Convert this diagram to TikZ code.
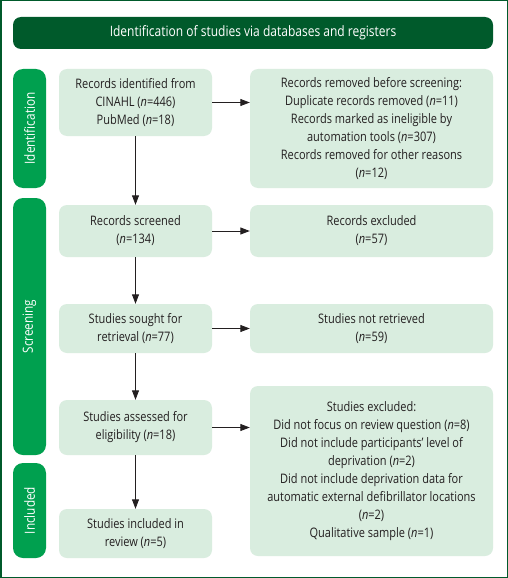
\documentclass[tikz,border=0pt]{standalone}
\usepackage{fontspec}
\setmainfont{Open Sans}[FakeStretch=0.84]
\usetikzlibrary{arrows.meta}
\definecolor{dkgreen}{HTML}{005A2B}
\definecolor{brgreen}{HTML}{00A04F}
\definecolor{ltgreen}{HTML}{D9EDDF}
\definecolor{txt}{HTML}{231F20}
\tikzset{
  box/.style={draw=none, fill=ltgreen, rounded corners=8pt, align=center, text=txt,
    font=\fontsize{13.1}{17.9}\selectfont, inner sep=0pt},
  sidebar/.style={draw=none, fill=brgreen, rounded corners=10pt, inner sep=0pt},
  sidelabel/.style={text=white, rotate=90, font=\fontsize{14}{16}\selectfont},
  arr/.style={draw=txt, line width=0.9pt, -{Triangle[length=9.5pt,width=7pt]}},
}
\begin{document}
\begin{tikzpicture}[x=1pt,y=-1pt]
\useasboundingbox (0,0) rectangle (508,578);
\fill[white] (0,0) rectangle (508,578);
\draw[dkgreen, line width=1.5pt] (0.75,0.75) rectangle (507.25,577.25);
% title
\node[fill=dkgreen, rounded corners=8pt, minimum width=480pt, minimum height=32pt, inner sep=0pt,
  text=white, font=\fontsize{14.3}{16}\selectfont] (title) at (253,33)
  {Identification of studies via databases and registers};
% side bars
\node[sidebar, minimum width=33pt, minimum height=119pt] (sbid) at (29.5,128.5) {};
\node[sidelabel] (lid) at (sbid.center) {Identification};
\node[sidebar, minimum width=33pt, minimum height=257pt] (sbsc) at (29.5,326.5) {};
\node[sidelabel] (lsc) at (sbsc.center) {Screening};
\node[sidebar, minimum width=33pt, minimum height=95pt] (sbin) at (29.5,510.5) {};
\node[sidelabel] (lin) at (sbin.center) {Included};
% left column
\node[box, minimum width=153pt, minimum height=67pt] (rid) at (135.5,102.5)
  {Records identified from\\CINAHL (\textit{n}=446)\\PubMed (\textit{n}=18)};
\node[box, minimum width=153pt, minimum height=52pt] (rscr) at (135.5,231)
  {Records screened\\(\textit{n}=134)};
\node[box, minimum width=153pt, minimum height=49pt] (sought) at (135.5,328.5)
  {Studies sought for\\retrieval (\textit{n}=77)};
\node[box, minimum width=153pt, minimum height=55pt] (assess) at (135.5,427.5)
  {Studies assessed for\\eligibility (\textit{n}=18)};
\node[box, minimum width=153pt, minimum height=49pt] (incl) at (135.5,533.5)
  {Studies included in\\review (\textit{n}=5)};
% right column
\node[box, minimum width=243pt, minimum height=119pt] (rrem) at (371.5,128.5)
  {Records removed before screening:\\Duplicate records removed (\textit{n}=11)\\Records marked as ineligible by\\automation tools (\textit{n}=307)\\Records removed for other reasons\\(\textit{n}=12)};
\node[box, minimum width=243pt, minimum height=52pt] (rexc) at (371.5,231)
  {Records excluded\\(\textit{n}=57)};
\node[box, minimum width=243pt, minimum height=49pt] (notret) at (371.5,328.5)
  {Studies not retrieved\\(\textit{n}=59)};
\node[box, minimum width=243pt, minimum height=170pt] (excl) at (371.5,471)
  {Studies excluded:\\Did not focus on review question (\textit{n}=8)\\Did not include participants’ level of\\deprivation (\textit{n}=2)\\Did not include deprivation data for\\automatic external defibrillator locations\\(\textit{n}=2)\\Qualitative sample (\textit{n}=1)};
% arrows
\draw[arr] (rid.south) -- (rscr.north);
\draw[arr] (rscr.south) -- (sought.north);
\draw[arr] (sought.south) -- (assess.north);
\draw[arr] (assess.south) -- (incl.north);
\draw[arr] (rid.east) -- (rid.east -| rrem.west);
\draw[arr] (rscr.east) -- (rexc.west);
\draw[arr] (sought.east) -- (notret.west);
\draw[arr] (assess.east) -- (assess.east -| excl.west);
\end{tikzpicture}
\end{document}
